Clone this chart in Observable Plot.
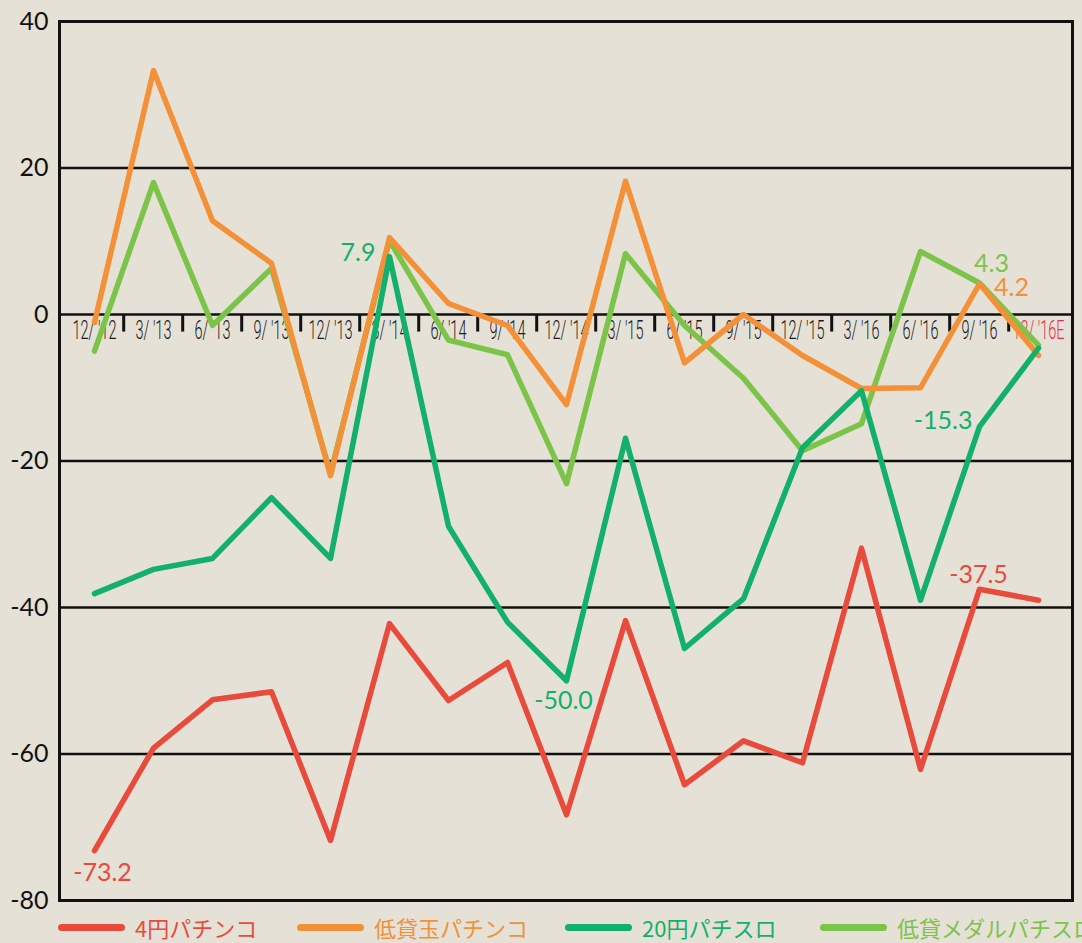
<!DOCTYPE html>
<html><head><meta charset="utf-8">
<script src="https://cdn.jsdelivr.net/npm/d3@7"></script>
<script src="https://cdn.jsdelivr.net/npm/@observablehq/plot@0.6"></script>
<style>
html,body{margin:0;padding:0;background:#e6e1d6;}
body{width:1082px;height:943px;overflow:hidden;position:relative;font-family:Lato,sans-serif;}
#chart{position:absolute;left:0;top:0;}
#legend{position:absolute;left:0;top:913px;width:1082px;height:28px;font-family:"Noto Sans CJK JP",sans-serif;font-size:22px;line-height:28px;}
.item{position:absolute;top:0;display:flex;align-items:center;height:28px;white-space:nowrap;}
.sw{width:67px;height:7px;border-radius:4px;margin-right:10px;}
.lt{display:block;height:28px;line-height:28px;}
</style></head>
<body><div id="chart"></div><div id="legend"></div>
<script>
// ---- data ----
const categories = ["12/ '12","3/ '13","6/ '13","9/ '13","12/ '13","3/ '14","6/ '14","9/ '14","12/ '14","3/ '15","6/ '15","9/ '15","12/ '15","3/ '16","6/ '16","9/ '16","12/ '16E"];
const seriesNames = ["4円パチンコ","低貸玉パチンコ","20円パチスロ","低貸メダルパチスロ"];
const yen4Pachinko   = [-73.2,-59.2,-52.6,-51.5,-71.8,-42.2,-52.7,-47.5,-68.3,-41.8,-64.2,-58.2,-61.2,-31.9,-62.1,-37.5,-39.0];
const lowRatePachinko= [-1.1,33.3,12.8,7.0,-22.0,10.5,1.5,-1.5,-12.3,18.2,-6.6,0.0,-5.6,-10.1,-10.0,4.2,-5.6];
const yen20Slot      = [-38.1,-34.8,-33.3,-25.0,-33.3,7.9,-28.9,-42.0,-50.0,-16.9,-45.6,-38.8,-18.2,-10.4,-39.0,-15.3,-4.6];
const lowRateSlot    = [-5.0,18.0,-1.5,6.3,-21.7,10.1,-3.5,-5.5,-23.1,8.3,-1.5,-8.7,-18.6,-14.9,8.6,4.3,-4.2];
const yTicks = [-80,-60,-40,-20,0,20,40];
const gridLines = [-60,-40,-20,0,20];
// value labels: [series index, category index, text]
const valueLabels = [[0,0,"-73.2"],[2,5,"7.9"],[2,8,"-50.0"],[2,15,"-15.3"],[3,15,"4.3"],[1,15,"4.2"],[0,15,"-37.5"]];

// ---- styles ----
const colors = ["#e84b3c","#f39038","#12b06a","#7cc34a"];
const labelStyle = [ // anchor, dx, dy per value label
  ["middle",8,22],["end",-14,-4],["middle",-3,20],["end",-7,-6],["middle",12,-19],["middle",32,4],["middle",-1,-14]
];
const legendLeft = [58,297,565,820];
const drawOrder = [0,3,1,2];

const seriesValues = [yen4Pachinko,lowRatePachinko,yen20Slot,lowRateSlot];
const rows = seriesNames.map((s,si)=>categories.map((c,i)=>({series:s,cat:c,value:seriesValues[si][i]})));

const W=1082,H=912,mL=59,mR=10,mT=21,mB=12;
const step=(W-mL-mR)/categories.length;
const xFont = "Roboto,'Liberation Sans',sans-serif";

const marks = [
  Plot.ruleY(gridLines,{stroke:"#111",strokeWidth:2.5}),
  Plot.ruleX(categories.slice(1),{x:d=>d,y1:0,y2:-2.4,dx:-step/2,stroke:"#111",strokeWidth:3}),
  Plot.frame({stroke:"#111",strokeWidth:3}),
  Plot.text(categories.slice(0,-1),{x:d=>d,y:0,dy:16,text:d=>d,fill:"#1a1a1a",fontSize:26,fontWeight:300,fontFamily:xFont,className:"xlab"}),
  Plot.text(categories.slice(-1),{x:d=>d,y:0,dy:16,text:d=>d,fill:"#e5304a",fontSize:26,fontWeight:300,fontFamily:xFont,className:"xlab"}),
];
for(const si of drawOrder){
  marks.push(Plot.line(rows[si],{x:"cat",y:"value",stroke:colors[si],strokeWidth:5.5,strokeLinejoin:"round",strokeLinecap:"round"}));
}
valueLabels.forEach(([si,ci,t],k)=>{
  const [anchor,dx,dy]=labelStyle[k];
  marks.push(Plot.text([{cat:categories[ci],value:seriesValues[si][ci],t}],{x:"cat",y:"value",text:"t",fill:colors[si],fontSize:25,textAnchor:anchor,dx,dy,fontFamily:"Lato,sans-serif"}));
});

const chart = Plot.plot({
  width:W,height:H,marginTop:mT,marginBottom:mB,marginLeft:mL,marginRight:mR,
  style:{background:"transparent",fontFamily:"Lato,sans-serif",fontSize:"25px",color:"#111",overflow:"visible"},
  x:{type:"point",domain:categories,padding:0.5,axis:null},
  y:{domain:[-80,40],ticks:yTicks,tickSize:0,tickPadding:11,label:null,tickFormat:d=>String(d)},
  marks
});
document.getElementById("chart").appendChild(chart);

// condense the category labels to the reference width
const xl = chart.querySelectorAll(".xlab text");
if(xl.length){
  const w = xl[0].getComputedTextLength();
  const s = w>0 ? 44/w : 0.7;
  xl.forEach(t=>t.setAttribute("transform",(t.getAttribute("transform")||"")+` scale(${s},1)`));
}

// legend
const lg=document.getElementById("legend");
seriesNames.forEach((n,i)=>{
  const it=document.createElement("div");it.className="item";it.style.left=legendLeft[i]+"px";
  const sw=document.createElement("div");sw.className="sw";sw.style.background=colors[i];
  const tx=document.createElement("span");tx.className="lt";tx.textContent=n;tx.style.color=colors[i];
  it.appendChild(sw);it.appendChild(tx);lg.appendChild(it);
});
</script>
</body></html>
